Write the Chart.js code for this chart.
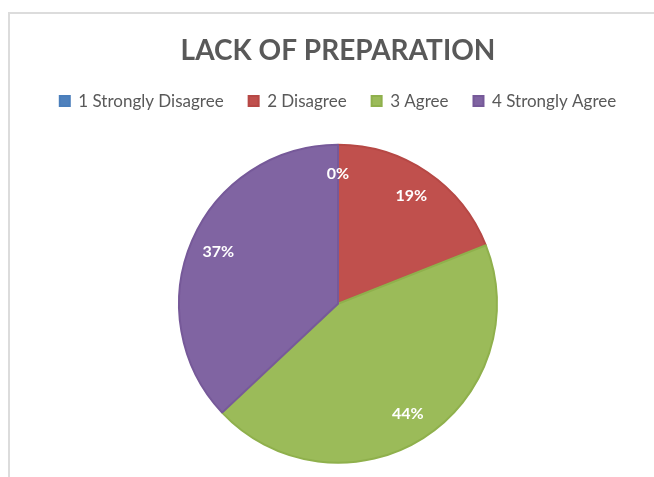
<!DOCTYPE html>
<html>
<head>
<meta charset="utf-8">
<script src="https://cdn.jsdelivr.net/npm/chart.js@4/dist/chart.umd.min.js"></script>
<style>
  html, body { margin: 0; padding: 0; background: #fff; }
  #wrap { position: relative; width: 654px; height: 477px; overflow: hidden; }
  #frame { position: absolute; left: 8px; top: 12px; width: 700px; height: 500px;
           border-top: 2px solid #dcdcdc; border-left: 2px solid #dcdcdc; }
  #chartLack { position: absolute; left: 0; top: 0; }
</style>
</head>
<body>
<div id="wrap">
  <div id="frame"></div>
  <canvas id="chartLack" width="654" height="477"></canvas>
</div>
<script>
const kategori = ['1 Strongly Disagree', '2 Disagree', '3 Agree', '4 Strongly Agree'];
const persen = [0, 19, 44, 37];
const warna = ['#4F81BD', '#C0504D', '#9BBB59', '#8064A2'];
const warnaTepi = ['#4A7EBB', '#B64845', '#8FB04C', '#765999'];

// geser area pie sedikit ke bawah tanpa memindah judul & legend
const geserPie = {
  id: 'geserPie',
  afterLayout(chart) {
    chart.chartArea.top += 11;
    chart.chartArea.height -= 11;
  }
};

// label persen di dalam irisan
const labelPersen = {
  id: 'labelPersen',
  afterDatasetsDraw(chart) {
    const ctx = chart.ctx;
    const meta = chart.getDatasetMeta(0);
    const data = chart.data.datasets[0].data;
    const total = data.reduce((a, b) => a + b, 0);
    ctx.save();
    ctx.fillStyle = '#ffffff';
    ctx.font = 'bold 16px Lato';
    ctx.textAlign = 'center';
    ctx.textBaseline = 'middle';
    meta.data.forEach(function (arc, i) {
      const p = arc.getProps(['x', 'y', 'startAngle', 'endAngle', 'outerRadius'], true);
      const mid = (p.startAngle + p.endAngle) / 2;
      const r = p.outerRadius * 0.82;
      const teks = Math.round(data[i] / total * 100) + '%';
      ctx.fillText(teks, p.x + Math.cos(mid) * r, p.y + Math.sin(mid) * r);
    });
    ctx.restore();
  }
};

const config = {
  type: 'pie',
  data: {
    labels: kategori,
    datasets: [{
      data: persen,
      backgroundColor: warna,
      borderColor: warnaTepi,
      borderWidth: 2,
      radius: 159
    }]
  },
  options: {
    responsive: false,
    animation: false,
    layout: { padding: { left: 22, right: 0, top: 0, bottom: 0 } },
    plugins: {
      title: {
        display: true,
        text: 'LACK OF PREPARATION',
        color: '#595959',
        font: { family: 'Lato', size: 28, weight: 'bold' },
        padding: { top: 34, bottom: 0 }
      },
      legend: {
        position: 'top',
        labels: {
          color: '#595959',
          font: { family: 'Lato', size: 17 },
          boxWidth: 10,
          boxHeight: 10,
          padding: 25
        }
      },
      tooltip: { enabled: false }
    }
  },
  plugins: [geserPie, labelPersen]
};

const chartLack = new Chart(document.getElementById('chartLack'), config);
</script>
</body>
</html>
